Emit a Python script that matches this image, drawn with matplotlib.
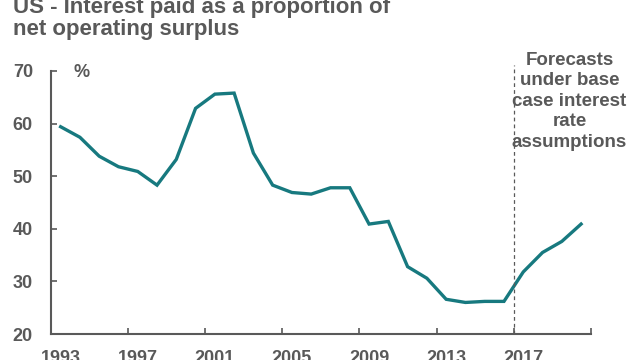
import matplotlib
matplotlib.use("Agg")
import matplotlib.pyplot as plt

plt.rcParams['font.family'] = ['Liberation Sans', 'DejaVu Sans']

years = list(range(1993, 2021))
values = [59.4, 57.4, 53.8, 51.8, 50.9, 48.3, 53.2, 62.9, 65.6, 65.8,
          54.4, 48.3, 46.9, 46.6, 47.8, 47.8, 40.9, 41.4, 32.8, 30.6,
          26.6, 26.0, 26.2, 26.2, 31.8, 35.5, 37.6, 40.9]
xtick_labels = ['1993', '1997', '2001', '2005', '2009', '2013', '2017']
yticks = [20, 30, 40, 50, 60, 70]

title = "US - Interest paid as a proportion of\nnet operating surplus"
note = "Forecasts\nunder base\ncase interest\nrate\nassumptions"

gray = '#595959'
teal = '#17797f'

fig = plt.figure(figsize=(6.4, 3.6), dpi=100)
ax = fig.add_axes([0.0797, 0.0722, 0.8433, 0.7306])

ax.plot(years, values, color=teal, lw=2.4, solid_joinstyle='miter')

ax.set_xlim(1992.5, 2020.5)
ax.set_ylim(20, 70)

# major ticks between categories (no labels), minor ticks at label positions
ax.set_xticks([1992.5 + 4 * k for k in range(8)])
ax.set_xticklabels([])
ax.set_xticks([int(l) for l in xtick_labels], minor=True)
ax.set_xticklabels(xtick_labels, minor=True)
ax.tick_params(axis='x', which='major', direction='in', length=4, width=1.2, color=gray)
ax.tick_params(axis='x', which='minor', length=0, pad=11.5, labelsize=13,
               labelcolor=gray)
for lbl in ax.get_xticklabels(minor=True):
    lbl.set_fontweight('bold')

ax.set_yticks(yticks)
ax.set_yticklabels([str(v) for v in yticks], fontweight='bold', color=gray, fontsize=13)
ax.tick_params(axis='y', direction='in', length=4, width=1.2, color=gray, pad=13)

for side in ['top', 'right']:
    ax.spines[side].set_visible(False)
for side in ['left', 'bottom']:
    ax.spines[side].set_color(gray)
    ax.spines[side].set_linewidth(1.5)

ax.plot([2016.5, 2016.5], [20, 71.2], color=gray, lw=0.9, ls=(0, (3, 2.5)),
        clip_on=False)

ax.text(0.041, 1.027, '%', transform=ax.transAxes, fontsize=13,
        fontweight='bold', color=gray, ha='left', va='top')

ax.text(2019.4, 73.6, note, ha='center', va='top', fontsize=13.5,
        fontweight='bold', color=gray, linespacing=1.26)

fig.text(0.021, 0.889, title, ha='left', va='bottom', fontsize=16,
         fontweight='bold', color=gray, linespacing=1.05)

fig.savefig('out.png', dpi=100)
